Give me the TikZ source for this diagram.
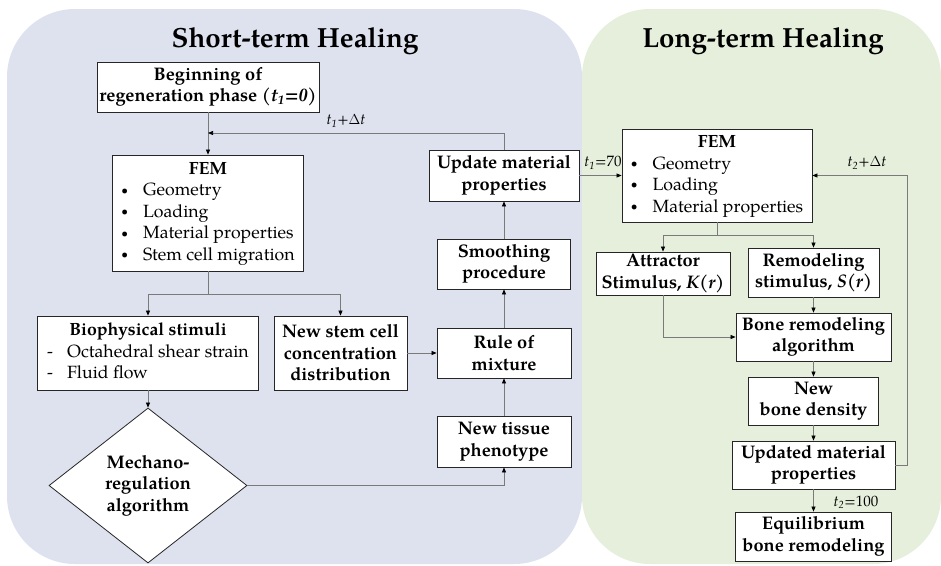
\documentclass[tikz,border=0pt]{standalone}
\usepackage{fontspec}
\setmainfont{TeX Gyre Pagella}
\usetikzlibrary{arrows.meta,shapes.geometric}

\definecolor{shortbg}{HTML}{DEE1EE}
\definecolor{longbg}{HTML}{E5EFDC}
\definecolor{wire}{HTML}{7A7A7A}

% italic time symbol with a subscript
\newcommand{\tsub}[2]{\textit{#1\textsubscript{#2}}}
% small list bullet
\newcommand{\dotmark}{\raisebox{0.2ex}{\fontsize{12}{12}\selectfont\textbullet}}

\begin{document}
\begin{tikzpicture}
  [x=1pt,y=-1pt,
   every node/.style={font=\fontsize{17.7}{21.3}\selectfont},
   box/.style={draw=black!85, fill=white, line width=0.8pt, inner sep=0pt,
     align=center, font=\fontsize{18.2}{21.5}\selectfont\bfseries},
   list/.style={box, font=\fontsize{17.7}{21.5}\selectfont},
   panel/.style={rounded corners=68pt},
   title/.style={font=\fontsize{27.7}{32}\selectfont\bfseries, anchor=base},
   tag/.style={font=\fontsize{15}{18}\selectfont, inner sep=0pt},
   wire/.style={draw=wire, line width=0.7pt},
   link/.style={wire, -{Triangle[length=5pt,width=4pt,color=black]}}]

  \useasboundingbox (0,0) rectangle (941,565);
  \fill[shortbg, panel] (7,9) rectangle (582,564);
  \fill[longbg, panel] (582,9) rectangle (941,564);

  \node[title] (h1) at (295,47) {Short-term Healing};
  \node[title] (h2) at (763,47) {Long-term Healing};

  % short-term loop
  \node[box, minimum width=222pt, minimum height=50pt] (s1) at (208,87)
    {Beginning of\\regeneration phase (\textit{t\textsubscript{1}=0)}};
  \node[list, minimum width=191pt, minimum height=116pt] (s2) at (208,213)
    {\begin{tabular}{@{}l@{\hspace{15pt}}l@{}}
      \multicolumn{2}{c}{\bfseries FEM}\\
      \dotmark & Geometry\\
      \dotmark & Loading\\
      \dotmark & Material properties\\
      \dotmark & Stem cell migration
     \end{tabular}};
  \node[list, minimum width=221pt, minimum height=74pt] (s3) at (148,353)
    {\begin{tabular}{@{}l@{\hspace{14pt}}l@{}}
      \multicolumn{2}{c}{\bfseries Biophysical stimuli}\\
      - & Octahedral shear strain\\
      - & Fluid flow
     \end{tabular}};
  \node[box, minimum width=133pt, minimum height=74pt] (s4) at (340.5,353)
    {New stem cell\\concentration\\distribution};
  \node[box, shape=diamond, minimum width=198pt, minimum height=155pt] (s5) at (148,485.5)
    {Mechano-\\regulation\\algorithm};
  \node[box, minimum width=134pt, minimum height=51pt] (s6) at (504,441.5)
    {New tissue\\phenotype};
  \node[box, minimum width=134pt, minimum height=50pt] (s7) at (504,353)
    {Rule of\\mixture};
  \node[box, minimum width=133pt, minimum height=50pt] (s8) at (504,264)
    {Smoothing\\procedure};
  \node[box, minimum width=150pt, minimum height=51pt] (s9) at (504,175.5)
    {Update material\\properties};

  % long-term loop
  \node[list, minimum width=190pt, minimum height=93pt] (l1) at (717,175.5)
    {\begin{tabular}{@{}l@{\hspace{15pt}}l@{}}
      \multicolumn{2}{c}{\bfseries FEM}\\
      \dotmark & Geometry\\
      \dotmark & Loading\\
      \dotmark & Material properties
     \end{tabular}};
  \node[box, minimum width=134pt, minimum height=43pt] (l2) at (663,273.5)
    {Attractor\\Stimulus, \textit{K(r)}};
  \node[box, minimum width=131pt, minimum height=49pt] (l3) at (813.5,272.5)
    {Remodeling\\stimulus, \textit{S(r)}};
  \node[box, minimum width=155pt, minimum height=48pt] (l4) at (813.5,337)
    {Bone remodeling\\algorithm};
  \node[box, minimum width=130pt, minimum height=48pt] (l5) at (813.5,401)
    {New\\bone density};
  \node[box, minimum width=163pt, minimum height=48pt] (l6) at (813.5,465)
    {Updated material\\properties};
  \node[box, minimum width=156pt, minimum height=49pt] (l7) at (813.5,536.5)
    {Equilibrium\\bone remodeling};

  \node[tag] (k1) at (346,121) {\tsub{t}{1}+$\Delta$\textit{t}};
  \node[tag] (k2) at (603,163) {\tsub{t}{1}=70};
  \node[tag] (k3) at (867,163) {\tsub{t}{2}+$\Delta$\textit{t}};
  \node[tag] (k4) at (856,502) {\tsub{t}{2}=100};

  \coordinate (c1) at (208,294);
  \coordinate (c2) at (208,133);
  \coordinate (c3) at (717,235);
  \coordinate (c4) at (907,465);

  \foreach \from/\to in {s1/s2,s3/s5,s4/s7,s6/s7,s7/s8,s8/s9,s9/l1,l3/l4,l4/l5,l5/l6,l6/l7}
    \draw[link] (\from) -- (\to);

  \draw[wire] (s2) -- (c1);
  \draw[link] (c1) -| (s3);
  \draw[link] (c1) -| (s4);
  \draw[link] (s5) -| (s6);
  \draw[link] (s9) |- (c2);

  \draw[wire] (l1) -- (c3);
  \draw[link] (c3) -| (l2);
  \draw[link] (c3) -| (l3);
  \draw[link] (l2) |- (l4);
  \draw[link] (l6) -- (c4) |- (l1);

\end{tikzpicture}
\end{document}
